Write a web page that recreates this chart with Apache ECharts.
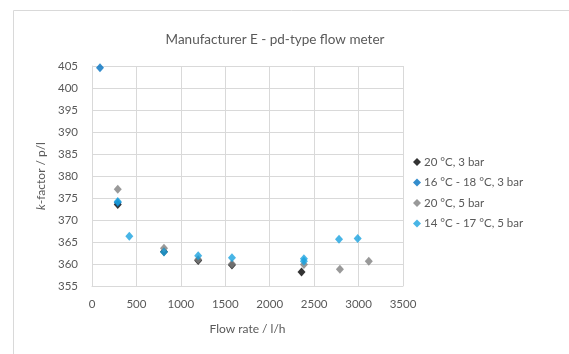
<!DOCTYPE html>
<html>
<head>
<meta charset="utf-8">
<script src="https://cdn.jsdelivr.net/npm/echarts@6/dist/echarts.min.js"></script>
<style>
  html, body { margin: 0; padding: 0; background: #fff; }
  #chart { width: 569px; height: 354px; }
</style>
</head>
<body>
<div id="chart"></div>
<script>
// series data: [flow rate l/h, k-factor p/l]
const seriesNames = ['20 °C, 3 bar', '16 °C - 18 °C, 3 bar', '20 °C, 5 bar', '14 °C - 17 °C, 5 bar'];
const seriesColors = ['#000000', '#0070c0', '#7f7f7f', '#1aa3e0'];
const black3bar = [[290, 373.5], [810, 362.8], [1195, 360.8], [1575, 359.8], [2358, 358.2]];
const blue3bar = [[90, 404.6], [290, 374.0]];
const gray5bar = [[290, 377.0], [810, 363.6], [1195, 361.0], [1575, 360.0], [2385, 359.9], [2790, 358.8], [3115, 360.6]];
const lightBlue5bar = [[290, 374.2], [420, 366.3], [810, 362.7], [1195, 361.9], [1575, 361.4], [2385, 361.2], [2385, 360.6], [2780, 365.6], [2990, 365.8]];
const seriesData = [black3bar, blue3bar, gray5bar, lightBlue5bar];

const chart = echarts.init(document.getElementById('chart'));
const textColor = '#595959';
const gridColor = '#d9d9d9';

chart.setOption({
  animation: false,
  textStyle: { fontFamily: 'Lato', color: textColor },
  graphic: [{
    type: 'rect',
    shape: { x: 13.5, y: 10.5, width: 600, height: 400 },
    style: { fill: 'none', stroke: gridColor, lineWidth: 1 }
  }],
  title: {
    text: 'Manufacturer E - pd-type flow meter',
    left: 270,
    textAlign: 'center',
    top: 28,
    textStyle: { fontFamily: 'Lato', fontSize: 13.5, fontWeight: 'normal', color: textColor }
  },
  legend: {
    orient: 'vertical',
    left: 408,
    top: 151,
    itemWidth: 8,
    itemHeight: 8,
    itemGap: 8.5,
    icon: 'diamond',
    textStyle: { fontFamily: 'Lato', fontSize: 11.5, color: textColor, padding: [0, 0, 0, -2] },
    data: seriesNames
  },
  grid: { left: 92, right: 166, top: 66, bottom: 68 },
  xAxis: {
    type: 'value',
    min: 0, max: 3500, interval: 500,
    name: 'Flow rate / l/h',
    nameLocation: 'middle',
    nameGap: 37,
    nameTextStyle: { fontSize: 12, color: textColor },
    axisLine: { lineStyle: { color: gridColor } },
    axisTick: { show: false },
    axisLabel: { fontSize: 11.5, color: textColor, margin: 12, formatter: v => String(v) },
    splitLine: { lineStyle: { color: gridColor } }
  },
  yAxis: {
    type: 'value',
    min: 355, max: 405, interval: 5,
    name: '{i|k}-factor / p/l',
    nameLocation: 'middle',
    nameGap: 44,
    nameTextStyle: {
      fontSize: 12, color: textColor,
      rich: { i: { fontStyle: 'italic', fontSize: 12, color: textColor } }
    },
    axisLine: { show: true, lineStyle: { color: gridColor } },
    axisTick: { show: false },
    axisLabel: { fontSize: 11.5, color: textColor, margin: 14 },
    splitLine: { lineStyle: { color: gridColor } }
  },
  series: seriesNames.map((name, i) => ({
    name: name,
    type: 'scatter',
    symbol: 'diamond',
    symbolSize: [8, 9],
    itemStyle: { color: seriesColors[i] },
    data: seriesData[i]
  }))
});
</script>
</body>
</html>
